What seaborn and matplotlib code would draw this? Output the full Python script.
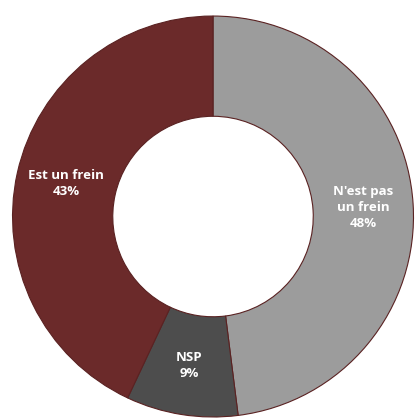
import numpy as np
import matplotlib
matplotlib.use("Agg")
import matplotlib.pyplot as plt
import seaborn as sns

categories = ["N'est pas\nun frein", "NSP", "Est un frein"]
values = [48, 9, 43]
colors = ["#9c9c9c", "#4d4d4d", "#6b2a2a"]

sns.set_theme(style="white")
plt.rcParams['font.family'] = ['Open Sans', 'DejaVu Sans']

fig = plt.figure(figsize=(4.16, 4.19), dpi=100)
ax = fig.add_axes([0, 0, 1, 1])
wedges, _ = ax.pie(values, colors=colors, startangle=90, counterclock=False,
                   radius=1.0, wedgeprops=dict(width=0.5, edgecolor="#5a2222", linewidth=0.8))
for w, cat, v in zip(wedges, categories, values):
    ang = np.deg2rad((w.theta1 + w.theta2) / 2)
    r = 0.75
    ax.text(r * np.cos(ang), r * np.sin(ang), f"{cat}\n{v}%", ha="center", va="center",
            color="white", fontsize=9.5, fontweight="bold", linespacing=1.3)
ax.set_xlim(-1.06, 1.01)
ax.set_ylim(-1.01, 1.08)
ax.set_aspect("equal")
ax.axis("off")
fig.savefig("out.png", dpi=100)
